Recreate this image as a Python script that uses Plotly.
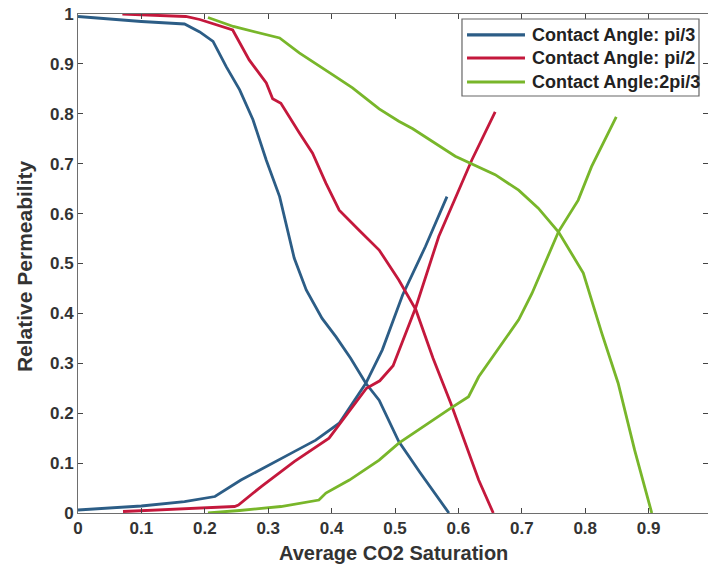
import plotly.graph_objects as go

# ---- data ----
blue_dec_x = [0, 0.05, 0.10, 0.168, 0.192, 0.213, 0.234, 0.255, 0.276, 0.297, 0.318, 0.341,
              0.36, 0.385, 0.407, 0.43, 0.454, 0.475, 0.506, 0.54, 0.585]
blue_dec_y = [0.995, 0.99, 0.985, 0.98, 0.964, 0.945, 0.894, 0.848, 0.788, 0.707, 0.634, 0.511,
              0.447, 0.39, 0.353, 0.31, 0.26, 0.226, 0.143, 0.08, 0.0]
blue_inc_x = [0, 0.1, 0.168, 0.216, 0.257, 0.31, 0.341, 0.375, 0.412, 0.454, 0.48, 0.512, 0.548, 0.582]
blue_inc_y = [0.006, 0.014, 0.023, 0.033, 0.066, 0.103, 0.123, 0.146, 0.18, 0.26, 0.327, 0.437, 0.534, 0.634]

red_dec_x = [0.07, 0.12, 0.17, 0.192, 0.244, 0.27, 0.297, 0.307, 0.32, 0.349, 0.37, 0.391, 0.412,
             0.443, 0.475, 0.506, 0.533, 0.56, 0.588, 0.632, 0.655]
red_dec_y = [1.0, 0.997, 0.995, 0.989, 0.968, 0.908, 0.862, 0.83, 0.821, 0.762, 0.721, 0.661, 0.607,
             0.567, 0.527, 0.467, 0.407, 0.31, 0.22, 0.066, 0.0]
red_inc_x = [0.071, 0.15, 0.247, 0.253, 0.289, 0.341, 0.396, 0.455, 0.476, 0.497, 0.533, 0.569, 0.621, 0.658]
red_inc_y = [0.003, 0.007, 0.013, 0.016, 0.053, 0.103, 0.15, 0.25, 0.265, 0.295, 0.413, 0.554, 0.707, 0.804]

green_dec_x = [0.205, 0.245, 0.318, 0.349, 0.402, 0.433, 0.454, 0.475, 0.506, 0.528, 0.595, 0.658,
               0.695, 0.726, 0.758, 0.797, 0.826, 0.852, 0.878, 0.905]
green_dec_y = [0.993, 0.975, 0.952, 0.922, 0.878, 0.852, 0.831, 0.81, 0.785, 0.77, 0.715, 0.678,
               0.647, 0.611, 0.563, 0.481, 0.361, 0.26, 0.126, 0.0]
green_inc_x = [0.205, 0.255, 0.32, 0.38, 0.391, 0.428, 0.475, 0.506, 0.588, 0.616, 0.632, 0.658,
               0.695, 0.716, 0.758, 0.789, 0.81, 0.849]
green_inc_y = [0.0, 0.005, 0.013, 0.026, 0.04, 0.066, 0.106, 0.14, 0.21, 0.233, 0.273, 0.32,
               0.387, 0.44, 0.564, 0.627, 0.694, 0.794]

names = ["Contact Angle: pi/3", "Contact Angle: pi/2", "Contact Angle:2pi/3"]
colors = ["#2c5d86", "#c4183c", "#78b62a"]

x_ticks = [0, 0.1, 0.2, 0.3, 0.4, 0.5, 0.6, 0.7, 0.8, 0.9, 1]
x_tick_text = ["0", "0.1", "0.2", "0.3", "0.4", "0.5", "0.6", "0.7", "0.8", "0.9", "1"]
y_ticks = [0, 0.1, 0.2, 0.3, 0.4, 0.5, 0.6, 0.7, 0.8, 0.9, 1]
y_tick_text = ["0", "0.1", "0.2", "0.3", "0.4", "0.5", "0.6", "0.7", "0.8", "0.9", "1"]

x_title = "Average CO2 Saturation"
y_title = "Relative Permeability"

series = [
    (blue_dec_x, blue_dec_y, blue_inc_x, blue_inc_y),
    (red_dec_x, red_dec_y, red_inc_x, red_inc_y),
    (green_dec_x, green_dec_y, green_inc_x, green_inc_y),
]

FONT = "Arial, Liberation Sans, sans-serif"
TXT = "#333333"

fig = go.Figure()
for (dx, dy, ix, iy), name, col in zip(series, names, colors):
    fig.add_trace(go.Scatter(x=dx, y=dy, mode="lines", name=name, showlegend=False,
                             line=dict(color=col, width=2.8)))
    fig.add_trace(go.Scatter(x=ix, y=iy, mode="lines", name=name, showlegend=False,
                             line=dict(color=col, width=2.8)))

tickfont = dict(family=FONT, size=17, color=TXT, weight="bold")
axis_common = dict(
    showgrid=False, zeroline=False, showline=True, linecolor="#6e6e6e", linewidth=1,
    mirror="ticks", ticks="inside", ticklen=5, tickcolor="#444", tickwidth=1,
    tickfont=tickfont,
)

fig.update_layout(
    width=708, height=577,
    margin=dict(l=78, r=0, t=14, b=64),
    plot_bgcolor="white", paper_bgcolor="white",
    font=dict(family=FONT, color=TXT),
    showlegend=False,
    xaxis=dict(range=[0, 0.9937], tickvals=x_ticks, ticktext=x_tick_text, **axis_common),
    yaxis=dict(range=[0, 1], tickvals=y_ticks, ticktext=y_tick_text, **axis_common),
)

# axis titles
fig.add_annotation(text=x_title, xref="paper", yref="paper", x=0.5, y=-0.081,
                   xanchor="center", yanchor="middle", showarrow=False,
                   font=dict(family=FONT, size=20, color=TXT, weight="bold"))
fig.add_annotation(text=y_title, xref="paper", yref="paper", x=-0.084, y=0.495,
                   xanchor="center", yanchor="middle", showarrow=False, textangle=-90,
                   font=dict(family=FONT, size=21, color=TXT, weight="bold"))

# legend box (drawn in paper coordinates, matching the MATLAB-style legend)
leg_x0, leg_x1, leg_y0, leg_y1 = 0.6095, 0.9857, 0.8357, 0.99
fig.add_shape(type="rect", xref="paper", yref="paper", x0=leg_x0, x1=leg_x1, y0=leg_y0, y1=leg_y1,
              line=dict(color="#666666", width=1.2), fillcolor="white", layer="above")
leg_rows = [0.958, 0.9118, 0.8637]
for name, col, ly in zip(names, colors, leg_rows):
    fig.add_shape(type="line", xref="paper", yref="paper", x0=0.6175, x1=0.7095, y0=ly, y1=ly,
                  line=dict(color=col, width=3.2), layer="above")
    fig.add_annotation(text=name, xref="paper", yref="paper", x=0.7175, y=ly,
                       xanchor="left", yanchor="middle", showarrow=False,
                       font=dict(family=FONT, size=18, color="#222222", weight="bold"))

fig.write_html("out.html")
